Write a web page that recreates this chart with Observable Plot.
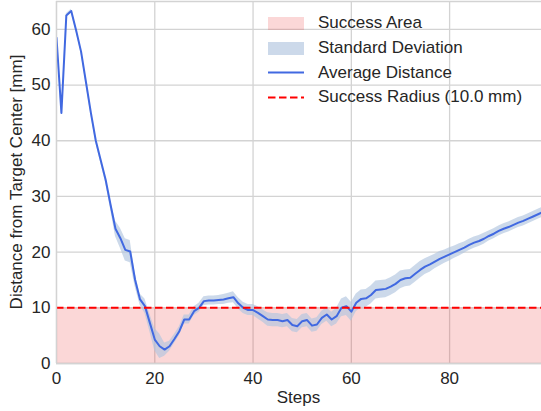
<!DOCTYPE html>
<html>
<head>
<meta charset="utf-8">
<script src="https://cdn.jsdelivr.net/npm/d3@7"></script>
<script src="https://cdn.jsdelivr.net/npm/@observablehq/plot@0.6"></script>
<style>
  body { margin: 0; background: #fff; }
  #wrap { position: relative; width: 541px; height: 411px; font-family: "Liberation Sans", Arial, sans-serif; color: #262626; }
  #legend { position: absolute; left: 268px; top: 11px; font-size: 17px; }
  .row { display: flex; align-items: center; height: 24.7px; }
  .sw { width: 36px; height: 13px; margin-right: 14px; display: flex; align-items: center; }
</style>
</head>
<body>
<div id="wrap"></div>
<script>
// Data
const steps = d3.range(0, 100);
const avgDistance = [
  58.5, 45.0, 62.5, 63.3, 59.8, 56.0, 50.5, 45.0, 40.0, 36.5,
  33.0, 28.5, 24.2, 22.5, 20.4, 20.1, 15.0, 11.5, 10.3, 7.3,
  4.3, 3.1, 2.5, 3.1, 4.4, 5.8, 7.9, 7.9, 9.4, 10.0,
  11.2, 11.3, 11.3, 11.4, 11.5, 11.7, 11.9, 10.8, 10.0, 9.6,
  9.6, 9.1, 8.5, 7.9, 7.8, 7.8, 7.6, 7.8, 6.9, 6.7,
  7.6, 7.8, 6.8, 7.0, 8.2, 8.8, 7.9, 8.5, 10.0, 10.3,
  9.3, 10.9, 11.6, 11.7, 12.3, 13.2, 13.3, 13.4, 13.8, 14.3,
  15.0, 15.3, 15.4, 16.1, 16.8, 17.4, 17.8, 18.3, 18.8, 19.2,
  19.6, 20.0, 20.4, 20.8, 21.3, 21.7, 22.0, 22.4, 22.9, 23.3,
  23.8, 24.2, 24.5, 24.9, 25.3, 25.6, 26.0, 26.4, 26.8, 27.2
];
const stdDistance = [
  0.3, 0.3, 0.3, 0.3, 0.3, 0.3, 0.3, 0.4, 0.4, 0.5,
  0.6, 0.8, 1.4, 1.8, 2.0, 2.0, 1.2, 1.0, 1.3, 1.6,
  2.0, 2.2, 1.2, 0.9, 0.8, 0.8, 0.8, 0.8, 0.8, 0.8,
  0.8, 0.8, 0.8, 0.8, 0.9, 0.9, 1.0, 1.0, 1.0, 1.0,
  1.0, 1.1, 1.1, 1.2, 1.2, 1.2, 1.2, 1.2, 1.2, 1.2,
  1.2, 1.2, 1.2, 1.2, 1.2, 1.2, 1.3, 1.4, 1.6, 1.7,
  1.7, 1.6, 1.6, 1.6, 1.6, 1.6, 1.6, 1.6, 1.6, 1.6,
  1.6, 1.5, 1.5, 1.5, 1.5, 1.4, 1.4, 1.3, 1.3, 1.2,
  1.2, 1.1, 1.1, 1.0, 1.0, 1.0, 1.0, 1.0, 0.9, 0.9,
  0.9, 0.9, 0.9, 0.9, 0.9, 0.9, 0.9, 0.9, 0.9, 0.9
];
const successRadius = 10.0;
const xTicks = [0, 20, 40, 60, 80];
const yTicks = [0, 10, 20, 30, 40, 50, 60];
const xDomain = [0, 98.7];
const yDomain = [0, 65];
const xLabel = "Steps";
const yLabel = "Distance from Target Center [mm]";

const rows = steps.map((s, i) => ({step: s, mean: avgDistance[i], std: stdDistance[i]}));

const lineColor = "#4169e1";
const bandColor = "#b0c4de";
const gridColor = "#d3d3d3";

const chart = Plot.plot({
  width: 541,
  height: 411,
  marginTop: 1,
  marginBottom: 48,
  marginLeft: 56,
  marginRight: 0,
  style: {fontFamily: "'Liberation Sans', Arial, sans-serif", fontSize: "17px", color: "#262626", background: "#fff"},
  x: {domain: xDomain, label: null},
  y: {domain: yDomain, label: null},
  marks: [
    Plot.gridX(xTicks, {stroke: gridColor, strokeOpacity: 1, strokeWidth: 1.3}),
    Plot.gridY(yTicks, {stroke: gridColor, strokeOpacity: 1, strokeWidth: 1.3}),
    Plot.ruleY([yDomain[1]], {stroke: gridColor, strokeWidth: 1.3}),
    Plot.rect([successRadius], {x1: xDomain[0], x2: xDomain[1], y1: 0, y2: d => d, fill: "rgb(232,40,40)", fillOpacity: 0.19}),
    Plot.areaY(rows, {x: "step", y1: d => d.mean - d.std, y2: d => d.mean + d.std, fill: bandColor, fillOpacity: 0.65, clip: true}),
    Plot.lineY(rows, {x: "step", y: "mean", stroke: lineColor, strokeWidth: 2, clip: true}),
    Plot.ruleY([successRadius], {stroke: "#ff0000", strokeWidth: 2, strokeDasharray: "7.5,3.5"}),
    Plot.ruleX([xDomain[0]], {stroke: gridColor, strokeWidth: 1.3}),
    Plot.ruleY([0], {stroke: gridColor, strokeWidth: 1.3}),
    Plot.axisX({ticks: xTicks, tickSize: 0, tickPadding: 8, label: null, fill: "#262626"}),
    Plot.axisY({ticks: yTicks, tickSize: 0, tickPadding: 6, label: null, fill: "#262626"})
  ]
});

const wrap = document.getElementById("wrap");
wrap.appendChild(chart);

// axis titles as real text inside the svg, positioned relative to the plot frame
const svg = d3.select(chart.tagName.toLowerCase() === "svg" ? chart : chart.querySelector("svg"));
svg.append("text")
  .attr("x", (56 + 541) / 2).attr("y", 403)
  .attr("text-anchor", "middle").attr("fill", "#262626")
  .style("font-size", "17px")
  .text(xLabel);
svg.append("text")
  .attr("transform", `translate(22,${(1 + 363) / 2}) rotate(-90)`)
  .attr("text-anchor", "middle").attr("fill", "#262626")
  .style("font-size", "17px")
  .text(yLabel);

const legendItems = [
  {label: "Success Area", kind: "patch", color: "rgba(232,40,40,0.19)"},
  {label: "Standard Deviation", kind: "patch", color: "rgba(176,196,222,0.65)"},
  {label: "Average Distance", kind: "line", color: lineColor},
  {label: "Success Radius (10.0 mm)", kind: "dash", color: "#ff0000"}
];
const legend = document.createElement("div");
legend.id = "legend";
for (const it of legendItems) {
  const row = document.createElement("div");
  row.className = "row";
  const sw = document.createElement("div");
  sw.className = "sw";
  if (it.kind === "patch") {
    sw.innerHTML = `<svg width="36" height="13"><rect width="36" height="13" fill="${it.color}"/></svg>`;
  } else if (it.kind === "line") {
    sw.innerHTML = `<svg width="36" height="13"><line x1="0" x2="36" y1="6.5" y2="6.5" stroke="${it.color}" stroke-width="2"/></svg>`;
  } else {
    sw.innerHTML = `<svg width="36" height="13"><line x1="0" x2="36" y1="6.5" y2="6.5" stroke="${it.color}" stroke-width="2" stroke-dasharray="7.5,3.5"/></svg>`;
  }
  const tx = document.createElement("span");
  tx.textContent = it.label;
  row.appendChild(sw);
  row.appendChild(tx);
  legend.appendChild(row);
}
wrap.appendChild(legend);
</script>
</body>
</html>
